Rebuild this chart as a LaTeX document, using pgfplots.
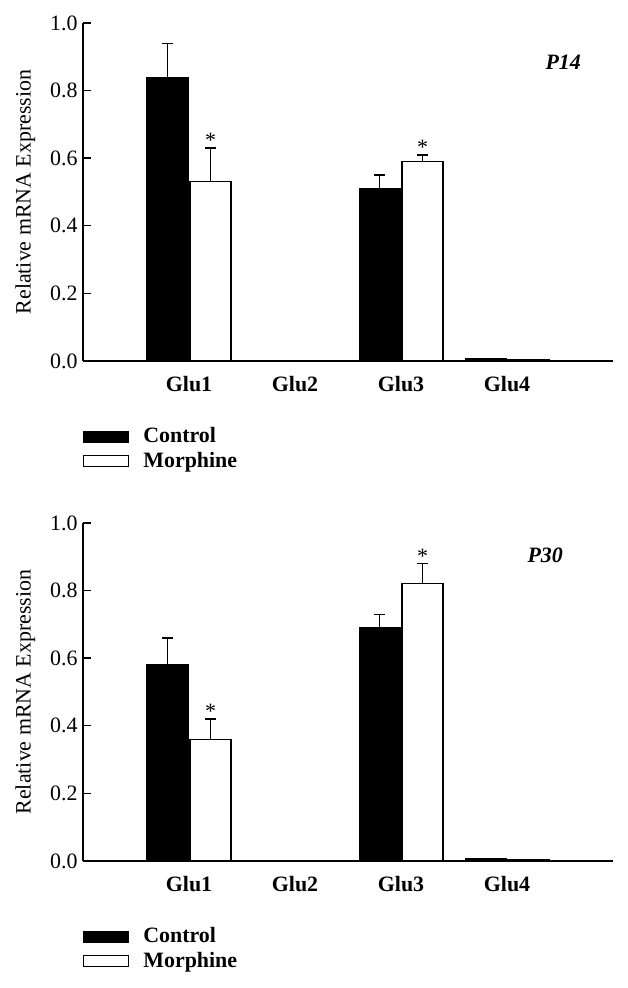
\documentclass[border=0pt]{standalone}
\usepackage{pgfplots}
\pgfplotsset{compat=1.18}
\usepackage{fontspec}
\setmainfont{Liberation Serif}

\pgfplotstableread{
x y e
1 0.84 0.10
2 0.001 0
3 0.51 0.04
4 0.008 0
}\ctrlA
\pgfplotstableread{
x y e
1 0.53 0.10
2 0.001 0
3 0.59 0.02
4 0.005 0
}\morA
\pgfplotstableread{
x y e
1 0.58 0.08
2 0.001 0
3 0.69 0.04
4 0.008 0
}\ctrlB
\pgfplotstableread{
x y e
1 0.36 0.06
2 0.001 0
3 0.82 0.06
4 0.005 0
}\morB

\pgfplotsset{
 myaxis/.style={
  scale only axis, width=530bp, height=338bp,
  xmin=0, xmax=5, ymin=0, ymax=1,
  axis lines=left, axis line style={line width=1.6bp, -},
  ybar=2bp, bar width=41bp,
  xtick={1,2,3,4},
  xticklabels={\textbf{Glu1},\textbf{Glu2},\textbf{Glu3},\textbf{Glu4}},
  x tick style={draw=none},
  xticklabel style={yshift=0bp},
  ytick={0,0.2,0.4,0.6,0.8,1.0},
  /pgf/number format/assume math mode=true,
  yticklabel style={/pgf/number format/fixed, /pgf/number format/fixed zerofill, /pgf/number format/precision=1, xshift=2bp},
  ytick align=inside, major tick length=8bp,
  y tick style={line width=1.4bp, black},
  ylabel={Relative mRNA Expression},
  ylabel style={yshift=0bp},
  clip=false,
  legend style={draw=none, fill=none, at={(0,-0.19)}, anchor=north west,
     legend cell align=left, font=\bfseries, row sep=2bp, inner sep=0pt},
 },
 errp/.style={forget plot, draw=none, fill=none, bar shift=#1,
   error bars/.cd, y dir=plus, y explicit,
   error bar style={draw=black, line width=1.4bp},
   error mark options={draw=black, rotate=90, mark size=5.5bp, line width=1.4bp}},
 starp/.style={forget plot, draw=none, fill=none, bar shift=21.5bp,
   nodes near coords={*}, every node near coord/.append style={inner sep=0pt, anchor=south, text=black}},
 legcode/.style={legend image code/.code={\draw[##1, line width=1.2bp] (0bp,-5.5bp) rectangle (45bp,5.5bp); \path (57bp,0bp);}},
}

\begin{document}
\fontsize{22}{26}\selectfont
\begin{tikzpicture}
\useasboundingbox (0,0) rectangle (628bp,988bp);
% top panel
\begin{axis}[myaxis, at={(83bp,627bp)}, anchor=south west]
\addplot[fill=black, draw=black, line width=1bp, bar shift=-21.5bp, legcode] table[x=x,y=y] {\ctrlA};
\addlegendentry{Control}
\addplot[fill=white, draw=black, line width=1.2bp, bar shift=21.5bp, legcode] table[x=x,y=y] {\morA};
\addlegendentry{Morphine}
\addplot[errp=-21.5bp] table[x=x,y=y,y error=e] {
x y e
1 0.84 0.10
3 0.51 0.04
};
\addplot[errp=21.5bp] table[x=x,y=y,y error=e] {
x y e
1 0.53 0.10
3 0.59 0.02
};
\addplot[starp] table[x=x,y=y] {
x y
1 0.63
3 0.61
};
\node[font=\bfseries\itshape] at (rel axis cs:0.906,0.885) {P14};
\end{axis}
% bottom panel
\begin{axis}[myaxis, at={(83bp,127bp)}, anchor=south west]
\addplot[fill=black, draw=black, line width=1bp, bar shift=-21.5bp, legcode] table[x=x,y=y] {\ctrlB};
\addlegendentry{Control}
\addplot[fill=white, draw=black, line width=1.2bp, bar shift=21.5bp, legcode] table[x=x,y=y] {\morB};
\addlegendentry{Morphine}
\addplot[errp=-21.5bp] table[x=x,y=y,y error=e] {
x y e
1 0.58 0.08
3 0.69 0.04
};
\addplot[errp=21.5bp] table[x=x,y=y,y error=e] {
x y e
1 0.36 0.06
3 0.82 0.06
};
\addplot[starp] table[x=x,y=y] {
x y
1 0.42
3 0.88
};
\node[font=\bfseries\itshape] at (rel axis cs:0.872,0.905) {P30};
\end{axis}
\end{tikzpicture}
\end{document}
